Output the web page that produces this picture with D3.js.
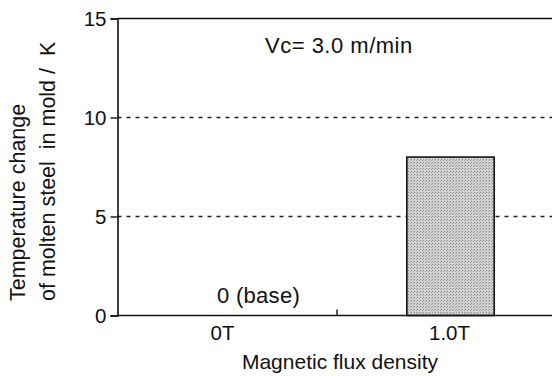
<!DOCTYPE html>
<html>
<head>
<meta charset="utf-8">
<script src="https://cdn.jsdelivr.net/npm/d3@7"></script>
<style>
  html, body { margin: 0; padding: 0; background: #fff; }
  svg { display: block; }
  text { font-family: "Liberation Sans", Arial, sans-serif; fill: #111; white-space: pre; }
</style>
</head>
<body>
<svg id="chart" width="552" height="376"></svg>
<script>
// Temperature change of molten steel in the mold vs. magnetic flux density
const categories = ["0T", "1.0T"];
const values = [0, 8];
const yTicks = [0, 5, 10, 15];
const gridValues = [5, 10];
const valueLabels = ["0 (base)", null];
const note = "Vc= 3.0 m/min";
const xTitle = "Magnetic flux density";
const yTitleLines = ["Temperature change", "of molten steel  in mold /  K"];

const svg = d3.select("#chart");
const W = 552, H = 376;
const plotLeft = 117.5, plotTop = 18.5, plotBottom = 315.5;

const y = d3.scaleLinear().domain([0, 15]).range([plotBottom, plotTop]);
const x = d3.scaleBand().domain(categories).range([110, 564]).padding(0);
const barW = x.bandwidth() * 0.385;

// stippled grey fill for the bar
const defs = svg.append("defs");
const pat = defs.append("pattern")
  .attr("id", "stipple").attr("patternUnits", "userSpaceOnUse")
  .attr("width", 3).attr("height", 3);
pat.append("rect").attr("width", 3).attr("height", 3).attr("fill", "#d2d2d2");
pat.append("rect").attr("x", 0).attr("y", 0).attr("width", 1).attr("height", 1).attr("fill", "#858585");
pat.append("rect").attr("x", 2).attr("y", 1).attr("width", 1).attr("height", 1).attr("fill", "#a0a0a0");

// dashed reference lines
svg.append("g").selectAll("line").data(gridValues).join("line")
  .attr("x1", plotLeft).attr("x2", W)
  .attr("y1", d => y(d)).attr("y2", d => y(d))
  .attr("stroke", "#222").attr("stroke-width", 1.4)
  .attr("stroke-dasharray", "4,5");

// bars
svg.append("g").selectAll("rect").data(values).join("rect")
  .attr("x", (d, i) => x(categories[i]) + x.bandwidth() / 2 - barW / 2)
  .attr("y", d => y(d))
  .attr("width", barW)
  .attr("height", d => y(0) - y(d))
  .attr("fill", "url(#stipple)")
  .attr("stroke", "#111").attr("stroke-width", 1.6)
  .attr("display", d => d > 0 ? null : "none");

// left axis
const yAxis = d3.axisLeft(y).tickValues(yTicks).tickSize(7).tickPadding(4);
const gy = svg.append("g").attr("transform", `translate(${plotLeft},0)`).call(yAxis);
gy.select(".domain").attr("stroke", "#111").attr("stroke-width", 1.6);
gy.selectAll(".tick line").attr("stroke", "#111").attr("stroke-width", 1.4);
gy.selectAll(".tick text").attr("font-size", 20.5).attr("fill", "#111")
  .attr("font-family", "Liberation Sans, Arial, sans-serif");

// top and bottom frame lines
svg.append("line").attr("x1", plotLeft).attr("x2", W).attr("y1", plotTop).attr("y2", plotTop)
  .attr("stroke", "#111").attr("stroke-width", 1.6);
svg.append("line").attr("x1", plotLeft).attr("x2", W).attr("y1", plotBottom).attr("y2", plotBottom)
  .attr("stroke", "#111").attr("stroke-width", 1.6);

// separator tick between categories (points inward)
svg.append("line")
  .attr("x1", x(categories[1])).attr("x2", x(categories[1]))
  .attr("y1", plotBottom).attr("y2", plotBottom - 6)
  .attr("stroke", "#111").attr("stroke-width", 1.4);

// category labels
svg.append("g").selectAll("text").data(categories).join("text")
  .attr("x", d => x(d) + x.bandwidth() / 2 - 1)
  .attr("y", 340)
  .attr("text-anchor", "middle").attr("font-size", 20.5)
  .text(d => d);

// value label for the reference case
svg.append("g").selectAll("text").data(values).join("text")
  .filter((d, i) => valueLabels[i])
  .attr("x", (d, i) => x(categories[i]) + x.bandwidth() / 2 + 35)
  .attr("y", d => y(d) - 13)
  .attr("text-anchor", "middle").attr("font-size", 22).attr("letter-spacing", 0.3)
  .text((d, i) => valueLabels[i]);

// casting speed note
svg.append("text").attr("x", 265).attr("y", 53)
  .attr("font-size", 22).attr("letter-spacing", 0.5).text(note);

// axis titles
svg.append("text").attr("x", 340).attr("y", 369)
  .attr("text-anchor", "middle").attr("font-size", 21).text(xTitle);

svg.append("g").attr("transform", "translate(0,301) rotate(-90)")
  .selectAll("text").data(yTitleLines).join("text")
  .attr("x", 0).attr("y", (d, i) => 25 + i * 30)
  .attr("text-anchor", "start").attr("font-size", 21.5)
  .text(d => d);
</script>
</body>
</html>
